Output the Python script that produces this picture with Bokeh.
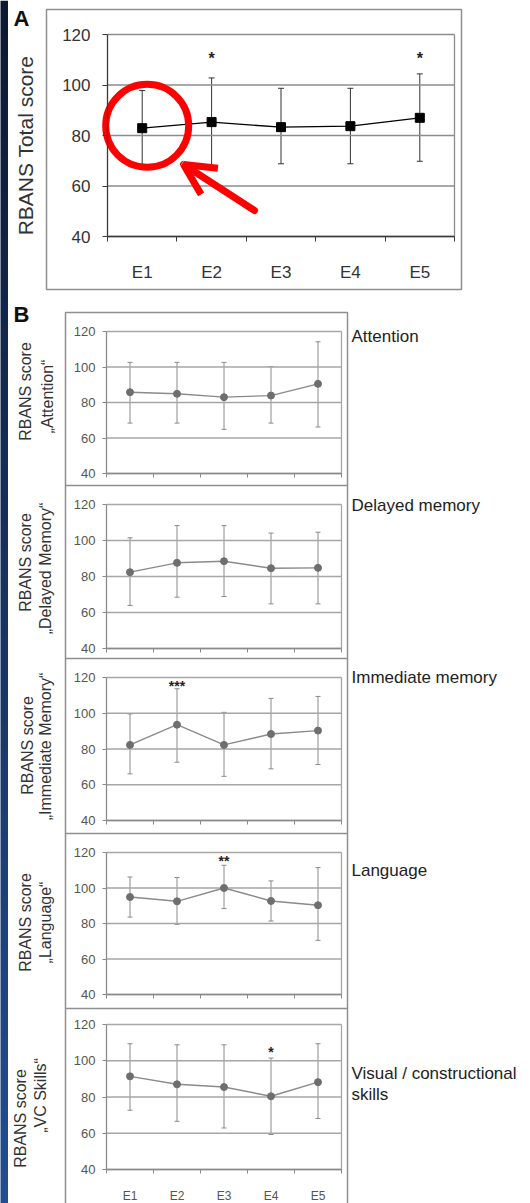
import numpy as np
from bokeh.plotting import figure
from bokeh.models import (Range1d, FixedTicker, ColumnDataSource, Whisker, TeeHead,
                          LinearAxis, Arrow, OpenHead)
from bokeh.core.properties import value
from bokeh.embed import file_html
from bokeh.resources import INLINE

# ---------------- data ----------------
categories = ["E1", "E2", "E3", "E4", "E5"]
y_ticks = [40, 60, 80, 100, 120]

total_mean = [82.9, 85.3, 83.3, 83.7, 87.0]
total_upper = [97.8, 102.8, 98.7, 98.7, 104.4]
total_lower = [68.5, 68.1, 68.8, 68.8, 69.8]
total_sig = ["", "*", "", "", "*"]

attention_mean = [85.8, 84.9, 83.0, 83.9, 90.5]
attention_upper = [102.6, 102.6, 102.6, 100.2, 114.2]
attention_lower = [68.4, 68.4, 64.9, 68.4, 66.2]
attention_sig = ["", "", "", "", ""]

delayed_mean = [82.4, 87.6, 88.5, 84.6, 84.8]
delayed_upper = [101.5, 108.3, 108.3, 104.1, 104.6]
delayed_lower = [63.9, 68.5, 68.9, 64.8, 64.8]
delayed_sig = ["", "", "", "", ""]

immediate_mean = [82.3, 93.6, 82.3, 88.4, 90.3]
immediate_upper = [99.6, 113.7, 100.5, 108.3, 109.4]
immediate_lower = [66.1, 72.6, 64.7, 68.9, 71.3]
immediate_sig = ["", "***", "", "", ""]

language_mean = [94.9, 92.5, 100.0, 92.7, 90.3]
language_upper = [106.2, 105.9, 112.8, 104.0, 111.5]
language_lower = [83.6, 79.5, 88.4, 81.4, 70.5]
language_sig = ["", "", "**", "", ""]

vc_mean = [91.4, 87.0, 85.5, 80.4, 88.2]
vc_upper = [109.4, 108.8, 108.8, 101.5, 109.4]
vc_lower = [72.7, 66.6, 62.9, 59.3, 68.1]
vc_sig = ["", "", "", "*", ""]

panel_a_title = "RBANS Total score"
panel_b_names = ["Attention", "Delayed memory", "Immediate memory", "Language",
                 "Visual / constructional\nskills"]
panel_b_ytitles = ["„Attention“", "„Delayed Memory“", "„Immediate Memory“",
                   "„Language“", "„VC Skills“"]

FONT = "Liberation Sans"
W, H = 530, 1203
xpos = [i + 0.5 for i in range(len(categories))]
YLO, YHI = 40, 120

p = figure(width=W, height=H, x_range=Range1d(0, W), y_range=Range1d(H, 0),
           x_axis_type=None, y_axis_type=None, output_backend="svg",
           toolbar_location=None, title=None,
           min_border=0, min_border_left=0, min_border_right=0,
           min_border_top=0, min_border_bottom=0)
p.outline_line_color = None
p.background_fill_color = "white"
p.border_fill_color = "white"

# ---------------- panel geometry (page pixels) ----------------
A_geo = dict(fl=107, fr=454, ft=34, fb=236)
B_fl, B_fr = 106, 341
B_geo = [
    dict(fl=B_fl, fr=B_fr, ft=331, fb=473),
    dict(fl=B_fl, fr=B_fr, ft=504, fb=648),
    dict(fl=B_fl, fr=B_fr, ft=677, fb=820),
    dict(fl=B_fl, fr=B_fr, ft=852, fb=994),
    dict(fl=B_fl, fr=B_fr, ft=1024, fb=1169),
]

xr, yr = {}, {}


def ranges_for(name, g):
    sx = (g["fr"] - g["fl"]) / 5.0
    sy = (g["fb"] - g["ft"]) / float(YHI - YLO)
    xr["x" + name] = Range1d(0 - g["fl"] / sx, 5 + (W - g["fr"]) / sx)
    yr["y" + name] = Range1d(YLO - (H - g["fb"]) / sy, YHI + g["ft"] / sy)


ranges_for("A", A_geo)
for i, g in enumerate(B_geo):
    ranges_for("B%d" % i, g)
p.extra_x_ranges = xr
p.extra_y_ranges = yr

# ---------------- background strip (vertical gradient image) / boxes ----------------
c0, c1 = np.array([11, 24, 50]), np.array([33, 78, 146])
tt = np.linspace(0, 1, H)[:, None]
rgb = (c0[None, :] * (1 - tt) + c1[None, :] * tt).round().astype(np.uint32)
img = np.zeros((H, 2), dtype=np.uint32)
for k in range(2):
    img[:, k] = rgb[:, 0] | (rgb[:, 1] << 8) | (rgb[:, 2] << 16) | (255 << 24)
p.image_rgba(image=[img], x=-3, y=0, dw=10.5, dh=H)

# panel A frame box and panel B boxes
p.quad(left=[46], right=[461], top=[9], bottom=[289], fill_color=None,
       line_color="#8f8f8f", line_width=1.5)
p.quad(left=[65], right=[347], top=[312], bottom=[H + 20], fill_color=None,
       line_color="#8f8f8f", line_width=1.5)
sep_y = [485, 658, 833, 1008]
p.segment(x0=[65] * 4, x1=[347] * 4, y0=sep_y, y1=sep_y, line_color="#8f8f8f",
          line_width=1.5)


def draw_panel(name, mean, upper, lower, sig, sig_y, style, show_labels):
    xn, yn = "x" + name, "y" + name
    rr = dict(x_range_name=xn, y_range_name=yn)
    # grid lines + right border of plot area
    p.segment(x0=[0] * len(y_ticks), x1=[5] * len(y_ticks), y0=y_ticks, y1=y_ticks,
              line_color=style["grid"], line_width=1.3, **rr)
    p.segment(x0=[5], x1=[5], y0=[YLO], y1=[YHI], line_color=style["grid"],
              line_width=1.3, **rr)
    # axes
    ya = LinearAxis(fixed_location=0, bounds=(YLO, YHI), ticker=FixedTicker(ticks=y_ticks),
                    **rr)
    ya.axis_line_color = style["axis"]
    ya.axis_line_width = 1.3
    ya.major_tick_line_color = style["axis"]
    ya.major_tick_in = 0
    ya.major_tick_out = style["tick_out"]
    ya.minor_tick_line_color = None
    ya.major_label_text_font = FONT
    ya.major_label_text_font_size = style["tick_font"]
    ya.major_label_text_color = style["tick_color"]
    ya.major_label_standoff = style["y_standoff"]
    p.add_layout(ya, "left")
    xa = LinearAxis(fixed_location=YLO, bounds=(0, 5),
                    ticker=FixedTicker(ticks=xpos if show_labels else [],
                                       minor_ticks=list(range(len(categories) + 1))),
                    **rr)
    if show_labels:
        xa.major_label_overrides = {x: c for x, c in zip(xpos, categories)}
    xa.axis_line_color = style["axis"]
    xa.axis_line_width = 1.3
    xa.major_tick_line_color = None
    xa.major_tick_in = 0
    xa.major_tick_out = 0
    xa.minor_tick_line_color = style["axis"]
    xa.minor_tick_in = 0
    xa.minor_tick_out = style["tick_out"]
    xa.major_label_text_font = FONT
    xa.major_label_text_font_size = style["xlabel_font"]
    xa.major_label_text_color = style["tick_color"]
    xa.major_label_standoff = style["x_standoff"]
    p.add_layout(xa, "below")
    # data
    src = ColumnDataSource(dict(x=xpos, mean=mean, upper=upper, lower=lower))
    ec = style["err"]
    w = Whisker(source=src, base="x", upper="upper", lower="lower", dimension="height",
                line_color=ec, line_width=1,
                upper_head=TeeHead(size=style["cap"], line_color=ec, line_width=1),
                lower_head=TeeHead(size=style["cap"], line_color=ec, line_width=1),
                level="underlay", **rr)
    p.add_layout(w)
    p.line("x", "mean", source=src, line_color=style["line"], line_width=1.4, **rr)
    p.scatter("x", "mean", source=src, marker=style["marker"], size=style["msize"],
              fill_color=style["mcolor"], line_color=style["mcolor"], **rr)
    sx = [x for x, s in zip(xpos, sig) if s]
    st = [s for s in sig if s]
    if st:
        p.text(x=sx, y=[sig_y] * len(st), text=st, text_font=value(FONT),
               text_font_size=style["sig_font"], text_font_style="bold",
               text_align="center", text_baseline="middle", text_color="#222222", **rr)


style_A = dict(grid="#8c8c8c", axis="#3a3a3a", tick_out=5, tick_font="17px",
               tick_color="#333333", y_standoff=12, xlabel_font="17px", x_standoff=21,
               err="#333333", cap=6, line="black", marker="square", msize=9,
               mcolor="black", sig_font="16px")
style_B = dict(grid="#a6a6a6", axis="#8a8a8a", tick_out=4, tick_font="13px",
               tick_color="#555555", y_standoff=7, xlabel_font="12px", x_standoff=15,
               err="#8a8a8a", cap=5, line="#8a8a8a", marker="circle", msize=7,
               mcolor="#6e6e6e", sig_font="14px")

draw_panel("A", total_mean, total_upper, total_lower, total_sig, 110.5, style_A, True)

b_data = [
    (attention_mean, attention_upper, attention_lower, attention_sig, 115),
    (delayed_mean, delayed_upper, delayed_lower, delayed_sig, 115),
    (immediate_mean, immediate_upper, immediate_lower, immediate_sig, 115),
    (language_mean, language_upper, language_lower, language_sig, 115),
    (vc_mean, vc_upper, vc_lower, vc_sig, 105),
]
for i, (m, u, l, s, sy) in enumerate(b_data):
    draw_panel("B%d" % i, m, u, l, s, sy, style_B, i == len(b_data) - 1)

# ---------------- texts outside plot areas (page pixels) ----------------
p.text(x=[21, 21], y=[18, 314], text=["A", "B"], text_font=value(FONT),
       text_font_size="22px", text_font_style="bold", text_align="center",
       text_baseline="middle", text_color="#111111")
p.text(x=[25], y=[145], text=[panel_a_title], angle=np.pi / 2, text_font=value(FONT),
       text_font_size="21px", text_align="center", text_baseline="middle",
       text_color="#333333")

name_x, name_y, name_t = [], [], []
name_pos = [[336], [505], [677], [870], [1073, 1094]]
for txt, ys in zip(panel_b_names, name_pos):
    for line_t, yy in zip(txt.split("\n"), ys):
        name_x.append(351)
        name_y.append(yy)
        name_t.append(line_t)
p.text(x=name_x, y=name_y, text=name_t, text_font=value(FONT), text_font_size="17px",
       text_align="left", text_baseline="middle", text_color="#222222")

yt1_pos = [(25, 391), (25, 562), (27, 745), (25, 922), (20, 1118)]
yt2_pos = [(47, 396), (45, 568), (45, 746), (45, 922), (40, 1095)]
p.text(x=[q[0] for q in yt1_pos] + [q[0] for q in yt2_pos],
       y=[q[1] for q in yt1_pos] + [q[1] for q in yt2_pos],
       text=["RBANS score"] * 5 + panel_b_ytitles, angle=np.pi / 2,
       text_font=value(FONT), text_font_size="16px", text_align="center",
       text_baseline="middle", text_color="#333333")

# ---------------- red highlight (circle + arrow) ----------------
p.scatter(x=[146.7], y=[125.3], marker="circle", size=83, fill_color=None,
          line_color="#ff0000", line_width=7)
p.add_layout(Arrow(x_start=254, y_start=210, x_end=183, y_end=164,
                   line_color="#ff0000", line_width=7, line_cap="round",
                   end=OpenHead(size=31, line_color="#ff0000", line_width=7)))

open("out.html", "w").write(file_html(p, INLINE))
